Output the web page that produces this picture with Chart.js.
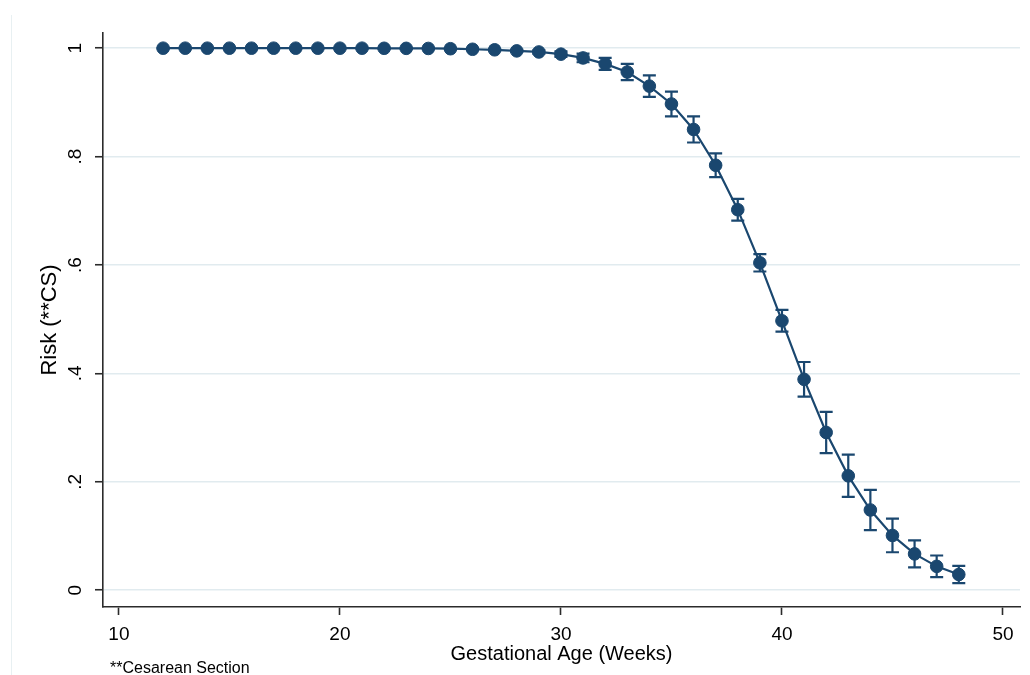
<!DOCTYPE html>
<html>
<head>
<meta charset="utf-8">
<script src="https://cdn.jsdelivr.net/npm/chart.js@4.4.1/dist/chart.umd.min.js"></script>
<style>
  html, body { margin: 0; padding: 0; background: #ffffff; }
  canvas { display: block; }
</style>
</head>
<body>
<canvas id="c" width="1030" height="675"></canvas>
<script>
// ---- Data ----
const weeks = [12,13,14,15,16,17,18,19,20,21,22,23,24,25,26,27,28,29,30,31,32,33,34,35,36,37,38,39,40,41,42,43,44,45,46,47,48];
const risk = [1.000,1.000,1.000,1.000,1.000,1.000,1.000,1.000,1.000,1.000,0.9998,0.9997,0.9995,0.999,0.998,0.997,0.995,0.993,0.989,0.982,0.971,0.956,0.930,0.897,0.850,0.784,0.702,0.604,0.497,0.389,0.291,0.211,0.148,0.101,0.067,0.044,0.029];
const ciLower = [0.999,0.999,0.999,0.999,0.999,0.999,0.999,0.999,0.999,0.999,0.9988,0.9987,0.9985,0.998,0.997,0.996,0.993,0.990,0.984,0.974,0.960,0.941,0.910,0.874,0.826,0.762,0.682,0.588,0.477,0.357,0.253,0.172,0.111,0.070,0.042,0.024,0.013];
const ciUpper = [1.000,1.000,1.000,1.000,1.000,1.000,1.000,1.000,1.000,1.000,1.000,1.000,1.000,1.000,0.999,0.998,0.997,0.996,0.994,0.990,0.982,0.971,0.950,0.920,0.874,0.806,0.722,0.620,0.517,0.421,0.329,0.250,0.185,0.132,0.092,0.064,0.045];
const xTicks = [10, 20, 30, 40, 50];
const xTickLabels = ['10', '20', '30', '40', '50'];
const yTicks = [0, 0.2, 0.4, 0.6, 0.8, 1];
const yTickLabels = ['0', '.2', '.4', '.6', '.8', '1'];
const xTitle = 'Gestational Age (Weeks)';
const yTitle = 'Risk (**CS)';
const noteText = '**Cesarean Section';

const NAVY = '#1a476f';
const AXIS = '#2b2b2b';
const GRID = '#e1ebef';
const FONT = 'Liberation Sans, Arial, sans-serif';

const points = weeks.map((w, i) => ({ x: w, y: risk[i] }));

const errorBars = {
  id: 'errorBars',
  beforeDatasetsDraw(chart) {
    const { ctx, scales: { x, y } } = chart;
    ctx.save();
    ctx.strokeStyle = NAVY;
    ctx.lineWidth = 2.2;
    weeks.forEach((w, i) => {
      const px = x.getPixelForValue(w);
      const pl = y.getPixelForValue(ciLower[i]);
      const pu = y.getPixelForValue(ciUpper[i]);
      ctx.beginPath();
      ctx.moveTo(px, pl); ctx.lineTo(px, pu);
      ctx.moveTo(px - 6.5, pl); ctx.lineTo(px + 6.5, pl);
      ctx.moveTo(px - 6.5, pu); ctx.lineTo(px + 6.5, pu);
      ctx.stroke();
    });
    ctx.restore();
  }
};

const extras = {
  id: 'extras',
  beforeDraw(chart) {
    const { ctx } = chart;
    ctx.save();
    ctx.strokeStyle = '#e8f0f2';
    ctx.lineWidth = 1;
    ctx.beginPath();
    ctx.moveTo(11.5, 15); ctx.lineTo(11.5, 675);
    ctx.stroke();
    ctx.restore();
  },
  afterDraw(chart) {
    const { ctx, scales: { y } } = chart;
    ctx.save();
    ctx.fillStyle = '#000000';
    ctx.font = '19px ' + FONT;
    ctx.textAlign = 'center';
    ctx.textBaseline = 'middle';
    yTicks.forEach((v, i) => {
      const py = y.getPixelForValue(v);
      ctx.save();
      ctx.translate(76, py);
      ctx.rotate(-Math.PI / 2);
      ctx.fillText(yTickLabels[i], 0, 0);
      ctx.restore();
    });
    ctx.font = '16px ' + FONT;
    ctx.textAlign = 'left';
    ctx.textBaseline = 'alphabetic';
    ctx.fillText(noteText, 110, 673);
    ctx.restore();
  }
};

new Chart(document.getElementById('c'), {
  type: 'line',
  data: {
    datasets: [{
      data: points,
      borderColor: NAVY,
      backgroundColor: NAVY,
      borderWidth: 2.2,
      pointRadius: 6.3,
      pointBorderWidth: 1,
      pointBackgroundColor: NAVY,
      pointBorderColor: NAVY,
      tension: 0,
      fill: false
    }]
  },
  options: {
    responsive: false,
    animation: false,
    layout: { padding: { top: 33, right: 10, left: 0, bottom: 0 } },
    plugins: { legend: { display: false }, tooltip: { enabled: false } },
    scales: {
      x: {
        type: 'linear',
        min: 9.28,
        max: 50.77,
        afterBuildTicks: s => { s.ticks = xTicks.map(v => ({ value: v })); },
        afterFit: s => { s.height = 68; },
        ticks: {
          font: { family: FONT, size: 19 },
          color: '#000000',
          padding: 8,
          maxRotation: 0,
          minRotation: 0,
          autoSkip: false,
          callback: v => xTickLabels[xTicks.indexOf(v)]
        },
        grid: { drawOnChartArea: false, drawTicks: true, tickLength: 8, tickColor: AXIS, tickWidth: 1.6 },
        border: { display: true, color: AXIS, width: 1.6 },
        title: { display: true, text: xTitle, color: '#000000', font: { family: FONT, size: 20 }, padding: { top: 0, bottom: 9 } }
      },
      y: {
        type: 'linear',
        min: -0.031,
        max: 1.028,
        afterBuildTicks: s => { s.ticks = yTicks.map(v => ({ value: v })); },
        afterFit: s => { s.width = 103; },
        ticks: { display: false },
        grid: { color: GRID, lineWidth: 1.5, drawTicks: true, tickLength: 8, tickColor: AXIS, tickWidth: 1.6 },
        border: { display: true, color: AXIS, width: 1.6 },
        title: { display: true, text: yTitle, color: '#000000', font: { family: FONT, size: 22 }, padding: { top: 37, bottom: 0 } }
      }
    }
  },
  plugins: [errorBars, extras]
});
</script>
</body>
</html>
